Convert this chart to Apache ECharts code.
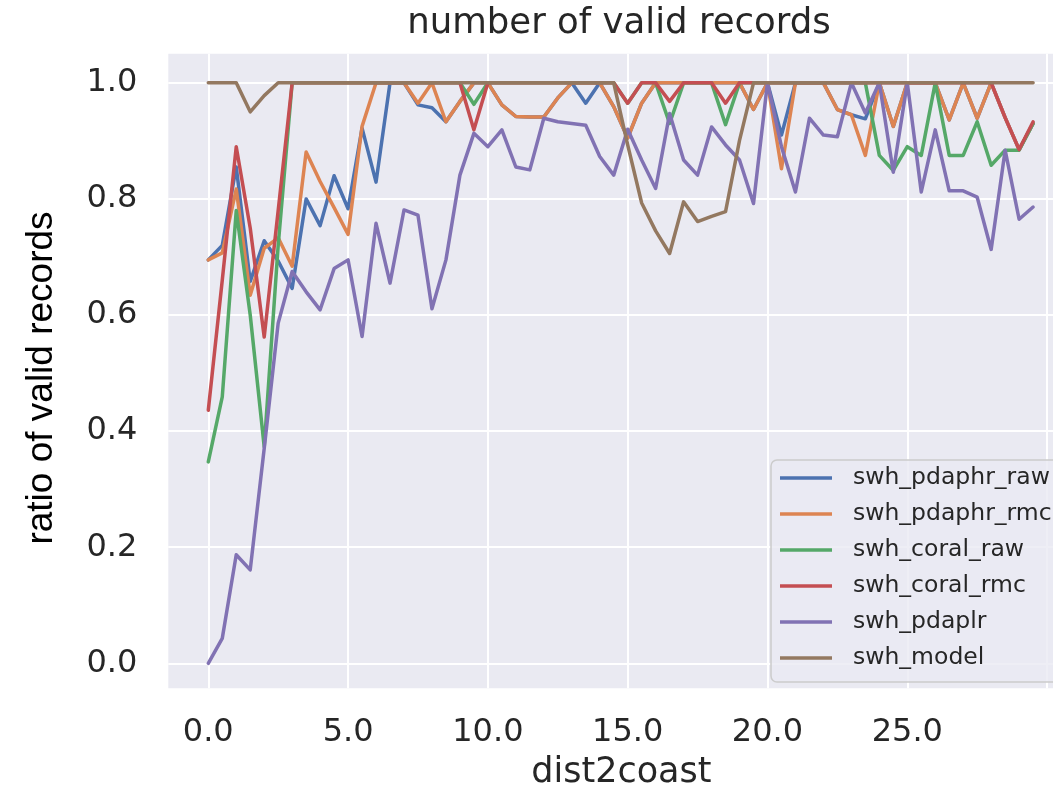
<!DOCTYPE html>
<html>
<head>
<meta charset="utf-8">
<script src="https://cdn.jsdelivr.net/npm/echarts@6/dist/echarts.min.js"></script>
<style>
  html, body { margin: 0; padding: 0; background: #ffffff; }
  #chart { width: 1053px; height: 794px; }
</style>
</head>
<body>
<div id="chart"></div>
<script>
// distance-to-coast bins (x values)
const dist2coast = [
  0, 0.5, 1, 1.5, 2, 2.5, 3, 3.5, 4, 4.5,
  5, 5.5, 6, 6.5, 7, 7.5, 8, 8.5, 9, 9.5,
  10, 10.5, 11, 11.5, 12, 12.5, 13, 13.5, 14, 14.5,
  15, 15.5, 16, 16.5, 17, 17.5, 18, 18.5, 19, 19.5,
  20, 20.5, 21, 21.5, 22, 22.5, 23, 23.5, 24, 24.5,
  25, 25.5, 26, 26.5, 27, 27.5, 28, 28.5, 29, 29.5
];

// ratio of valid records per product
const swh_pdaphr_raw = [
  0.695, 0.720, 0.855, 0.658, 0.728, 0.693, 0.646, 0.800, 0.754, 0.840,
  0.783, 0.922, 0.829, 1.000, 1.000, 0.962, 0.957, 0.933, 0.968, 1.000,
  1.000, 0.962, 0.942, 0.941, 0.941, 0.974, 1.000, 0.965, 1.000, 0.959,
  0.905, 0.965, 1.000, 1.000, 1.000, 1.000, 1.000, 1.000, 1.000, 0.954,
  1.000, 0.910, 1.000, 1.000, 1.000, 0.954, 0.945, 0.938, 1.000, 0.925,
  1.000, 1.000, 1.000, 0.936, 1.000, 0.939, 1.000, 0.940, 0.885, 0.930
];
const swh_pdaphr_rmc = [
  0.695, 0.707, 0.817, 0.634, 0.715, 0.733, 0.684, 0.881, 0.830, 0.785,
  0.739, 0.925, 1.000, 1.000, 1.000, 0.965, 1.000, 0.933, 0.968, 1.000,
  1.000, 0.962, 0.942, 0.941, 0.941, 0.974, 1.000, 1.000, 1.000, 0.959,
  0.905, 0.965, 1.000, 1.000, 1.000, 1.000, 1.000, 1.000, 1.000, 0.954,
  1.000, 0.852, 1.000, 1.000, 1.000, 0.954, 0.945, 0.875, 1.000, 0.925,
  1.000, 1.000, 1.000, 0.936, 1.000, 0.939, 1.000, 0.940, 0.885, 0.930
];
const swh_coral_raw = [
  0.347, 0.459, 0.780, 0.600, 0.373, 0.720, 1.000, 1.000, 1.000, 1.000,
  1.000, 1.000, 1.000, 1.000, 1.000, 1.000, 1.000, 1.000, 1.000, 0.963,
  1.000, 1.000, 1.000, 1.000, 1.000, 1.000, 1.000, 1.000, 1.000, 1.000,
  0.965, 1.000, 1.000, 0.930, 1.000, 1.000, 1.000, 0.928, 1.000, 1.000,
  1.000, 1.000, 1.000, 1.000, 1.000, 1.000, 1.000, 1.000, 0.875, 0.849,
  0.890, 0.875, 1.000, 0.875, 0.875, 0.933, 0.858, 0.884, 0.884, 0.930
];
const swh_coral_rmc = [
  0.436, 0.660, 0.890, 0.750, 0.562, 0.780, 1.000, 1.000, 1.000, 1.000,
  1.000, 1.000, 1.000, 1.000, 1.000, 1.000, 1.000, 1.000, 1.000, 0.919,
  1.000, 1.000, 1.000, 1.000, 1.000, 1.000, 1.000, 1.000, 1.000, 1.000,
  0.965, 1.000, 1.000, 0.968, 1.000, 1.000, 1.000, 0.965, 1.000, 1.000,
  1.000, 1.000, 1.000, 1.000, 1.000, 1.000, 1.000, 1.000, 1.000, 1.000,
  1.000, 1.000, 1.000, 1.000, 1.000, 1.000, 1.000, 0.940, 0.885, 0.933
];
const swh_pdaplr = [
  0.000, 0.043, 0.187, 0.161, 0.370, 0.586, 0.675, 0.640, 0.609, 0.680,
  0.695, 0.563, 0.758, 0.655, 0.781, 0.772, 0.611, 0.695, 0.841, 0.913,
  0.890, 0.919, 0.855, 0.850, 0.939, 0.933, 0.930, 0.927, 0.873, 0.841,
  0.920, 0.867, 0.818, 0.947, 0.867, 0.841, 0.924, 0.893, 0.867, 0.792,
  1.000, 0.890, 0.812, 0.939, 0.910, 0.907, 1.000, 0.948, 1.000, 0.846,
  1.000, 0.812, 0.919, 0.814, 0.814, 0.803, 0.713, 0.884, 0.765, 0.786
];
const swh_model = [
  1.000, 1.000, 1.000, 0.950, 0.978, 1.000, 1.000, 1.000, 1.000, 1.000,
  1.000, 1.000, 1.000, 1.000, 1.000, 1.000, 1.000, 1.000, 1.000, 1.000,
  1.000, 1.000, 1.000, 1.000, 1.000, 1.000, 1.000, 1.000, 1.000, 1.000,
  0.893, 0.793, 0.745, 0.706, 0.795, 0.761, 0.770, 0.778, 0.901, 1.000,
  1.000, 1.000, 1.000, 1.000, 1.000, 1.000, 1.000, 1.000, 1.000, 1.000,
  1.000, 1.000, 1.000, 1.000, 1.000, 1.000, 1.000, 1.000, 1.000, 1.000
];

// axis ticks (grid lines) and labelled ticks
const xGridTicks = [0, 5, 10, 15, 20, 25, 30];
const xLabelTicks = [0, 5, 10, 15, 20, 25];
const yTicks = [0, 0.2, 0.4, 0.6, 0.8, 1.0];

const seriesNames = ['swh_pdaphr_raw', 'swh_pdaphr_rmc', 'swh_coral_raw', 'swh_coral_rmc', 'swh_pdaplr', 'swh_model'];
const seriesValues = [swh_pdaphr_raw, swh_pdaphr_rmc, swh_coral_raw, swh_coral_rmc, swh_pdaplr, swh_model];
const palette = ['#4C72B0', '#DD8452', '#55A868', '#C44E52', '#8172B3', '#937860'];

const textColor = '#262626';
const mainFont = 'DejaVu Sans';

const chart = echarts.init(document.getElementById('chart'), null, { renderer: 'canvas' });

const series = seriesNames.map((name, i) => ({
  name: name,
  type: 'line',
  data: dist2coast.map((x, k) => [x, seriesValues[i][k]]),
  showSymbol: false,
  symbol: 'none',
  lineStyle: { width: 3.5, color: palette[i], join: 'round', cap: 'round' },
  itemStyle: { color: palette[i] },
  emphasis: { disabled: true },
  clip: false,
  z: 2 + i * 0.01
}));

chart.setOption({
  animation: false,
  backgroundColor: '#ffffff',
  grid: {
    left: 168.3,
    top: 53.8,
    width: 906.1,
    height: 634.5,
    show: true,
    backgroundColor: '#EAEAF2',
    borderWidth: 0,
    containLabel: false,
    outerBoundsMode: 'none'
  },
  xAxis: {
    type: 'value',
    min: -1.43,
    max: 30.977,
    name: 'dist2coast',
    nameLocation: 'middle',
    nameGap: 67,
    nameTextStyle: { fontSize: 35, fontFamily: mainFont, color: textColor },
    axisLine: { show: false },
    axisTick: { show: false, customValues: xGridTicks },
    axisLabel: {
      customValues: xLabelTicks,
      formatter: v => v.toFixed(1),
      fontSize: 32,
      fontFamily: mainFont,
      color: textColor,
      margin: 28
    },
    splitLine: { show: true, lineStyle: { color: '#ffffff', width: 2 } }
  },
  yAxis: {
    type: 'value',
    min: -0.043,
    max: 1.05,
    axisLine: { show: false },
    axisTick: { show: false, customValues: yTicks },
    axisLabel: {
      customValues: yTicks,
      formatter: v => v.toFixed(1),
      fontSize: 32,
      fontFamily: mainFont,
      color: textColor,
      margin: 31
    },
    splitLine: { show: true, lineStyle: { color: '#ffffff', width: 2 } }
  },
  legend: {
    data: seriesNames,
    orient: 'vertical',
    left: 771,
    top: 460,
    icon: 'rect',
    itemWidth: 52,
    itemHeight: 3.5,
    itemGap: 0,
    selectedMode: false,
    backgroundColor: 'rgba(234,234,242,0.8)',
    borderColor: '#cccccc',
    borderWidth: 1.5,
    borderRadius: 6,
    padding: [0, 12, 6, 9],
    textStyle: {
      fontSize: 23.5,
      fontFamily: mainFont,
      color: textColor,
      lineHeight: 36,
      padding: [0, 0, 0, 16]
    },
    z: 10
  },
  graphic: [
    {
      type: 'text',
      x: 619,
      y: 24,
      style: {
        text: 'number of valid records',
        fontSize: 35.5,
        fontFamily: mainFont,
        fill: textColor,
        textAlign: 'center',
        textVerticalAlign: 'middle',
        align: 'center',
        verticalAlign: 'middle'
      }
    },
    {
      type: 'text',
      x: 42,
      y: 378,
      rotation: Math.PI / 2,
      style: {
        text: 'ratio of valid records',
        fontSize: 37,
        fontFamily: 'Liberation Sans',
        fill: '#000000',
        textAlign: 'center',
        textVerticalAlign: 'middle',
        align: 'center',
        verticalAlign: 'middle'
      }
    }
  ],
  series: series
});
</script>
</body>
</html>
